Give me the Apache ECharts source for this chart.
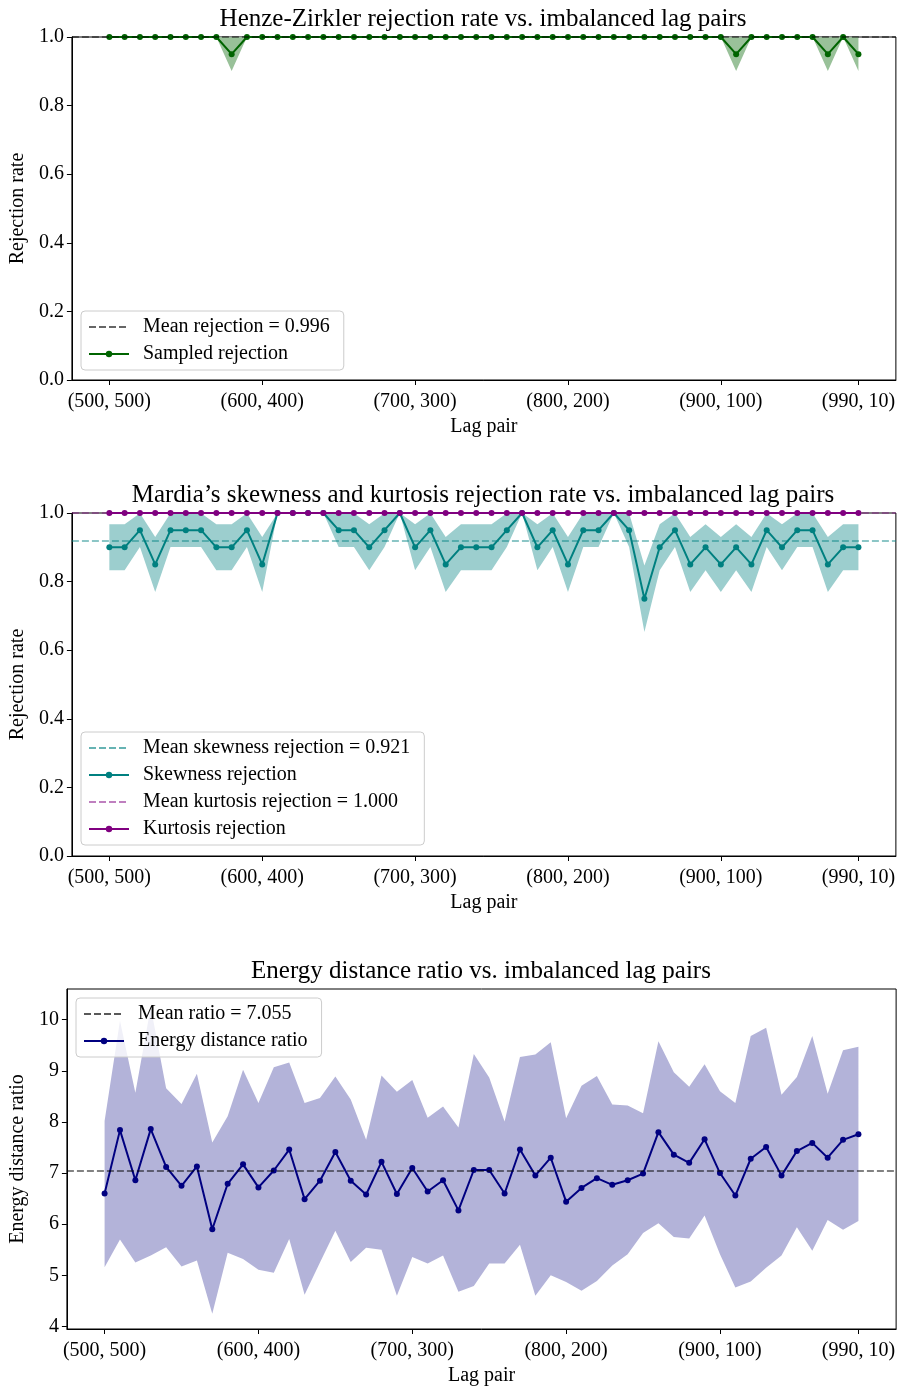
<!DOCTYPE html>
<html><head><meta charset="utf-8">
<script src="https://cdn.jsdelivr.net/npm/echarts@6/dist/echarts.min.js"></script>
<style>html,body{margin:0;padding:0;background:#fff}#c{width:898px;height:1387px}</style>
</head><body><div id="c"></div><script>
// ---- data ----
const tickIndex = [0, 10, 20, 30, 40, 49];
const tickLabels = ['(500, 500)', '(600, 400)', '(700, 300)', '(800, 200)', '(900, 100)', '(990, 10)'];

const hzMean = 0.996;
const hzRate = [1,1,1,1,1,1,1,1,0.95,1, 1,1,1,1,1,1,1,1,1,1, 1,1,1,1,1,1,1,1,1,1, 1,1,1,1,1,1,1,1,1,1, 1,0.95,1,1,1,1,1,0.95,1,0.95];
const hzLow  = [1,1,1,1,1,1,1,1,0.901,1, 1,1,1,1,1,1,1,1,1,1, 1,1,1,1,1,1,1,1,1,1, 1,1,1,1,1,1,1,1,1,1, 1,0.901,1,1,1,1,1,0.901,1,0.901];
const hzHigh = [1,1,1,1,1,1,1,1,0.999,1, 1,1,1,1,1,1,1,1,1,1, 1,1,1,1,1,1,1,1,1,1, 1,1,1,1,1,1,1,1,1,1, 1,0.999,1,1,1,1,1,0.999,1,0.999];

const skewMean = 0.921;
const kurtMean = 1.000;
const skewRate = [0.90,0.90,0.95,0.85,0.95,0.95,0.95,0.90,0.90,0.95, 0.85,1.00,1.00,1.00,1.00,0.95,0.95,0.90,0.95,1.00, 0.90,0.95,0.85,0.90,0.90,0.90,0.95,1.00,0.90,0.95, 0.85,0.95,0.95,1.00,0.95,0.75,0.90,0.95,0.85,0.90, 0.85,0.90,0.85,0.95,0.90,0.95,0.95,0.85,0.90,0.90];
const skewLow  = [0.833,0.833,0.901,0.770,0.901,0.901,0.901,0.833,0.833,0.901, 0.770,1,1,1,1,0.901,0.901,0.833,0.901,1, 0.833,0.901,0.770,0.833,0.833,0.833,0.901,1,0.833,0.901, 0.770,0.901,0.901,1,0.901,0.653,0.833,0.901,0.770,0.833, 0.770,0.833,0.770,0.901,0.833,0.901,0.901,0.770,0.833,0.833];
const skewHigh = [0.967,0.967,0.999,0.930,0.999,0.999,0.999,0.967,0.967,0.999, 0.930,1,1,1,1,0.999,0.999,0.967,0.999,1, 0.967,0.999,0.930,0.967,0.967,0.967,0.999,1,0.967,0.999, 0.930,0.999,0.999,1,0.999,0.847,0.967,0.999,0.930,0.967, 0.930,0.967,0.930,0.999,0.967,0.999,0.999,0.930,0.967,0.967];
const kurtRate = [1,1,1,1,1,1,1,1,1,1, 1,1,1,1,1,1,1,1,1,1, 1,1,1,1,1,1,1,1,1,1, 1,1,1,1,1,1,1,1,1,1, 1,1,1,1,1,1,1,1,1,1];

const energyMean = 7.055;
const energyRatio = [6.60,7.84,6.86,7.86,7.12,6.75,7.13,5.90,6.79,7.17, 6.72,7.05,7.46,6.49,6.85,7.41,6.85,6.58,7.22,6.59, 7.10,6.64,6.86,6.27,7.06,7.06,6.60,7.46,6.95,7.30, 6.44,6.71,6.90,6.77,6.86,6.99,7.80,7.36,7.20,7.66, 7.00,6.56,7.28,7.51,6.95,7.43,7.59,7.30,7.65,7.76];
const energyHigh = [8.02,9.98,8.57,10.25,8.66,8.35,8.94,7.60,8.11,9.02, 8.37,9.07,9.16,8.37,8.47,8.89,8.44,7.65,8.91,8.59, 8.82,8.08,8.30,7.89,9.33,8.87,8.01,9.27,9.32,9.56, 8.07,8.71,8.90,8.34,8.32,8.17,9.58,8.97,8.69,9.13, 8.60,8.37,9.68,9.84,8.53,8.88,9.68,8.55,9.40,9.47];
const energyLow = [5.16,5.70,5.25,5.39,5.55,5.17,5.29,4.25,5.44,5.32, 5.11,5.05,5.71,4.62,5.25,5.87,5.26,5.54,5.50,4.60, 5.36,5.23,5.39,4.68,4.79,5.23,5.23,5.60,4.60,5.00, 4.87,4.70,4.89,5.19,5.41,5.83,6.02,5.75,5.72,6.17, 5.41,4.76,4.88,5.15,5.39,5.94,5.48,6.08,5.89,6.06];
const energyTicks = [4, 5, 6, 7, 8, 9, 10];

// ---- styling ----
const FONT = 'Liberation Serif';
const TXT = {fontFamily: FONT, fontSize: 20, color: '#000'};
const DASH = [7, 3];

const names = {
  hzMean: 'Mean rejection = ' + hzMean.toFixed(3),
  hz: 'Sampled rejection',
  skMean: 'Mean skewness rejection = ' + skewMean.toFixed(3),
  sk: 'Skewness rejection',
  kuMean: 'Mean kurtosis rejection = ' + kurtMean.toFixed(3),
  ku: 'Kurtosis rejection',
  enMean: 'Mean ratio = ' + energyMean.toFixed(3),
  en: 'Energy distance ratio'
};

function pairs(arr) { return arr.map((v, i) => [i, v]); }

function xAxisCfg(gi) {
  return {
    type: 'value', gridIndex: gi, min: -2.45, max: 51.45,
    axisLine: {show: true, onZero: false, lineStyle: {color: '#000', width: 1}},
    axisTick: {show: true, customValues: tickIndex, length: 5, lineStyle: {color: '#000', width: 1}},
    axisLabel: Object.assign({customValues: tickIndex, margin: 12,
      formatter: v => tickLabels[tickIndex.indexOf(Math.round(v))] || ''}, TXT),
    splitLine: {show: false},
    name: 'Lag pair', nameLocation: 'middle', nameGap: 37, nameTextStyle: TXT
  };
}
function yAxisRate(gi) {
  return {
    type: 'value', gridIndex: gi, min: 0, max: 1, interval: 0.2,
    axisLine: {show: true, onZero: false, lineStyle: {color: '#000', width: 1}},
    axisTick: {show: true, length: 5, lineStyle: {color: '#000', width: 1}},
    axisLabel: Object.assign({margin: 8, formatter: v => v.toFixed(1)}, TXT),
    splitLine: {show: false},
    name: 'Rejection rate', nameLocation: 'middle', nameGap: 41, nameTextStyle: TXT
  };
}
function band(gi, lo, hi, color) {
  return {
    type: 'custom', xAxisIndex: gi, yAxisIndex: gi, silent: true, z: 1,
    data: [[0, lo[0]]],
    renderItem: function (params, api) {
      const pts = [];
      for (let i = 0; i < hi.length; i++) pts.push(api.coord([i, hi[i]]));
      for (let i = lo.length - 1; i >= 0; i--) pts.push(api.coord([i, lo[i]]));
      return {type: 'polygon', shape: {points: pts}, style: {fill: color}};
    }
  };
}
function meanSeries(gi, name, value, color) {
  return {
    name: name, type: 'line', xAxisIndex: gi, yAxisIndex: gi, data: [], symbol: 'none', z: 2,
    lineStyle: {color: color, width: 1.5, type: DASH},
    itemStyle: {color: color, opacity: 0},
    markLine: {silent: true, symbol: 'none', label: {show: false}, animation: false,
      lineStyle: {color: color, width: 1.5, type: DASH}, emphasis: {disabled: true},
      data: [{yAxis: value}]}
  };
}
function mainSeries(gi, name, arr, color, z) {
  return {
    name: name, type: 'line', xAxisIndex: gi, yAxisIndex: gi, data: pairs(arr),
    symbol: 'circle', symbolSize: 6, showSymbol: true, z: z,
    lineStyle: {color: color, width: 2}, itemStyle: {color: color},
    emphasis: {disabled: true}
  };
}
function legendCfg(list, meanList, left, top) {
  return {
    left: left, top: top, orient: 'vertical', selectedMode: false,
    data: list.map(n => meanList.indexOf(n) >= 0 ? {name: n, itemStyle: {opacity: 0}} : {name: n}),
    itemWidth: 40, itemHeight: 8, itemGap: 5,
    padding: [5, 14, 5, 7],
    backgroundColor: 'rgba(255,255,255,0.8)', borderColor: '#cccccc', borderWidth: 1, borderRadius: 4,
    textStyle: {fontFamily: FONT, fontSize: 20, color: '#000', lineHeight: 22, padding: [0, 0, 0, 9]}
  };
}
const titleStyle = {fontFamily: FONT, fontSize: 25, fontWeight: 'normal', color: '#000'};

const option = {
  animation: false,
  backgroundColor: '#fff',
  title: [
    {text: 'Henze-Zirkler rejection rate vs. imbalanced lag pairs', left: 483, top: 7, textAlign: 'center', padding: 0, textStyle: titleStyle},
    {text: 'Mardia\u2019s skewness and kurtosis rejection rate vs. imbalanced lag pairs', left: 483, top: 483, textAlign: 'center', padding: 0, textStyle: titleStyle},
    {text: 'Energy distance ratio vs. imbalanced lag pairs', left: 481, top: 959, textAlign: 'center', padding: 0, textStyle: titleStyle}
  ],
  grid: [
    {left: 70, top: 37, width: 827, height: 343, show: true, borderColor: '#000', borderWidth: 1, backgroundColor: 'transparent'},
    {left: 70, top: 513, width: 827, height: 343, show: true, borderColor: '#000', borderWidth: 1, backgroundColor: 'transparent'},
    {left: 65, top: 989, width: 832, height: 343, show: true, borderColor: '#000', borderWidth: 1, backgroundColor: 'transparent'}
  ],
  xAxis: [xAxisCfg(0), xAxisCfg(1), xAxisCfg(2)],
  yAxis: [
    yAxisRate(0),
    yAxisRate(1),
    {
      type: 'value', gridIndex: 2, min: 3.95, max: 10.6,
      axisLine: {show: true, onZero: false, lineStyle: {color: '#000', width: 1}},
      axisTick: {show: true, customValues: energyTicks, length: 5, lineStyle: {color: '#000', width: 1}},
      axisLabel: Object.assign({customValues: energyTicks, margin: 8, formatter: v => String(Math.round(v))}, TXT),
      splitLine: {show: false},
      name: 'Energy distance ratio', nameLocation: 'middle', nameGap: 31, nameTextStyle: TXT
    }
  ],
  legend: [
    legendCfg([names.hzMean, names.hz], [names.hzMean], 81, 311),
    legendCfg([names.skMean, names.sk, names.kuMean, names.ku], [names.skMean, names.kuMean], 81, 732),
    legendCfg([names.enMean, names.en], [names.enMean], 76, 998)
  ],
  series: [
    band(0, hzLow, hzHigh, 'rgb(153,193,153)'),
    meanSeries(0, names.hzMean, hzMean, 'rgba(0,0,0,0.6)'),
    mainSeries(0, names.hz, hzRate, '#006400', 3),

    band(1, skewLow, skewHigh, 'rgb(156,206,206)'),
    meanSeries(1, names.skMean, skewMean, 'rgba(0,128,128,0.6)'),
    mainSeries(1, names.sk, skewRate, '#008080', 3),
    meanSeries(1, names.kuMean, kurtMean, 'rgba(128,0,128,0.5)'),
    mainSeries(1, names.ku, kurtRate, '#800080', 4),

    band(2, energyLow, energyHigh, 'rgb(179,179,217)'),
    meanSeries(2, names.enMean, energyMean, 'rgba(0,0,0,0.65)'),
    mainSeries(2, names.en, energyRatio, '#000080', 3)
  ]
};
const chart = echarts.init(document.getElementById('c'), null, {renderer: 'canvas'});
chart.setOption(option);
</script></body></html>
